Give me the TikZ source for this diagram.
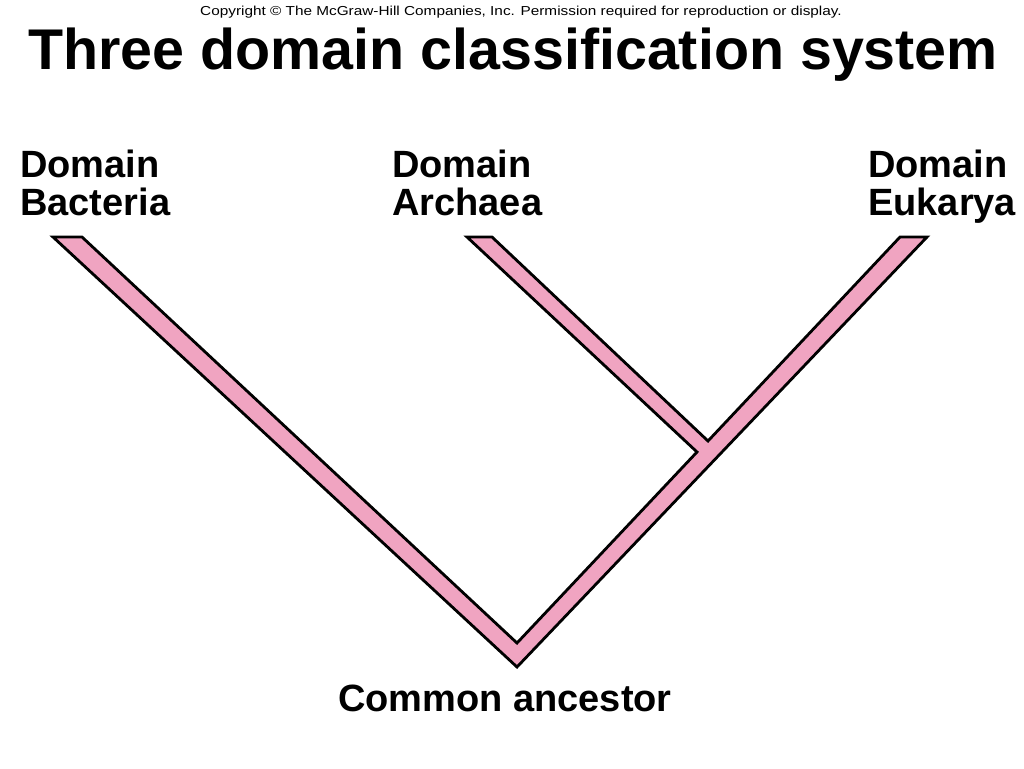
\documentclass[tikz,border=0pt]{standalone}
\usepackage{fontspec}
\usepackage{graphicx}
\setmainfont{Liberation Sans}
\usetikzlibrary{positioning}
\definecolor{branchpink}{RGB}{240,164,193}
\tikzset{
x=1pt,y=-1pt, % pixel units, y downwards
branch/.style={draw=black,fill=branchpink,line width=2.8pt,line join=miter},
domain label/.style={font=\bfseries\fontsize{38}{38}\selectfont,align=left,inner sep=0pt,anchor=base west},
title text/.style={font=\bfseries\fontsize{57.4}{60}\selectfont,inner sep=0pt,anchor=base west},
copyright text/.style={font=\fontsize{13}{15}\selectfont,inner sep=0pt,anchor=base west},
}
\begin{document}
\begin{tikzpicture}
\useasboundingbox[fill=white] (0,0) rectangle (1024,768);

% outline points of the tree
\coordinate (bacL) at (53,237);
\coordinate (bacR) at (82,237);
\coordinate (root) at (517,643);
\coordinate (rootout) at (517,667);
\coordinate (jlow) at (697,452);
\coordinate (arcL) at (467,237);
\coordinate (arcR) at (492,237);
\coordinate (jup) at (708,441);
\coordinate (eukL) at (900,237);
\coordinate (eukR) at (927,237);

\draw[branch] (bacL) -- (bacR) -- (root) -- (jlow) -- (arcL) -- (arcR)
  -- (jup) -- (eukL) -- (eukR) -- (rootout) -- cycle;

\node[copyright text] (copy) at (200,16) {\scalebox{1.18}[1]{Copyright \textcopyright\ The McGraw-Hill Companies, Inc. Permission required for reproduction or display.}};
\node[title text] (title) at (28,69) {Three domain classification system};

% labels: base is the last line
\node[domain label] (bacteria) at (20,215) {Domain\\Bacteria};
\node[domain label] (archaea) at (392,215) {Domain\\Archaea};
\node[domain label] (eukarya) at (868,215) {Domain\\Eukarya};
\node[domain label] (ancestor) at (338,711) {Common ancestor};
\end{tikzpicture}
\end{document}
